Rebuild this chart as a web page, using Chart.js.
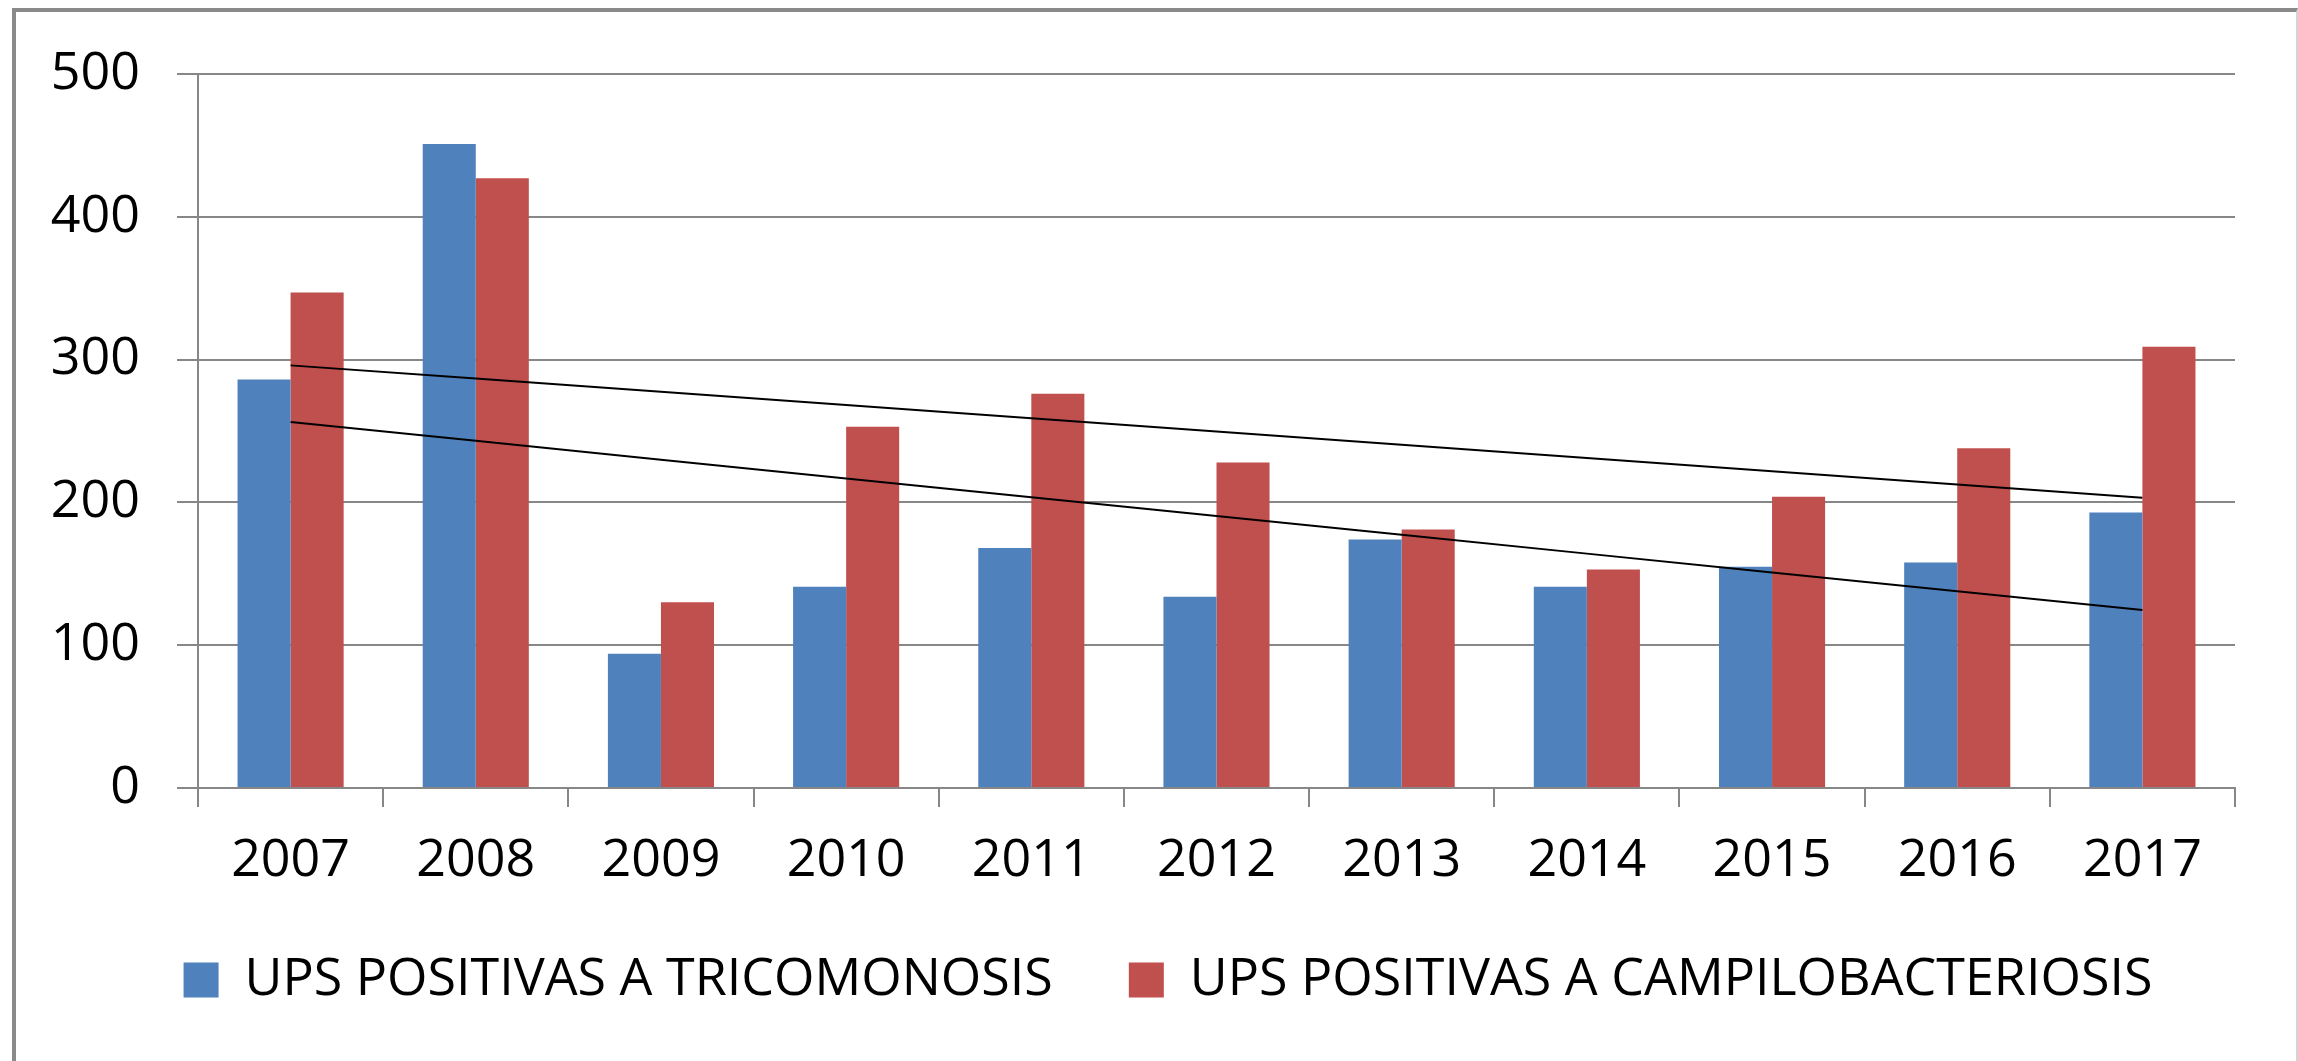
<!DOCTYPE html>
<html>
<head>
<meta charset="utf-8">
<script src="https://cdn.jsdelivr.net/npm/chart.js@4.4.1/dist/chart.umd.min.js"></script>
<style>
  html, body { margin: 0; padding: 0; background: #fff; }
  body { width: 2298px; height: 1061px; overflow: hidden; position: relative; }
  #frame {
    position: absolute; left: 12px; top: 8px; width: 2280px; height: 1100px;
    border-left: 4px solid #8a8a8a; border-top: 4px solid #8a8a8a; border-right: 2px solid #d4d4d4;
  }
  #wrap { position: absolute; left: 0; top: 0; width: 2298px; height: 1061px; }
</style>
</head>
<body>
<div id="frame"></div>
<div id="wrap"><canvas id="chart"></canvas></div>
<script>
const years = ['2007', '2008', '2009', '2010', '2011', '2012', '2013', '2014', '2015', '2016', '2017'];
const tricomonosis = [286, 451, 94, 141, 168, 134, 174, 141, 155, 158, 193];
const campilobacteriosis = [347, 427, 130, 253, 276, 228, 181, 153, 204, 238, 309];

// linear trend line, like the one Excel adds
function trend(values) {
  const n = values.length;
  const mx = (n - 1) / 2;
  const my = values.reduce((a, b) => a + b, 0) / n;
  let sxy = 0, sxx = 0;
  values.forEach((v, i) => { sxy += (i - mx) * (v - my); sxx += (i - mx) * (i - mx); });
  const slope = sxy / sxx;
  return values.map((v, i) => my + slope * (i - mx));
}

const font = { family: '"Open Sans", "Liberation Sans", sans-serif', size: 52 };
const gridColor = '#878787';

new Chart(document.getElementById('chart'), {
  type: 'bar',
  data: {
    labels: years,
    datasets: [
      {
        label: 'UPS POSITIVAS A TRICOMONOSIS',
        data: tricomonosis,
        backgroundColor: '#4F81BD',
        order: 1,
      },
      {
        label: 'UPS POSITIVAS A CAMPILOBACTERIOSIS',
        data: campilobacteriosis,
        backgroundColor: '#C0504D',
        order: 1,
      },
      {
        type: 'line',
        label: 'trend1',
        data: trend(tricomonosis),
        borderColor: '#000',
        borderWidth: 2,
        pointRadius: 0,
        order: 0,
      },
      {
        type: 'line',
        label: 'trend2',
        data: trend(campilobacteriosis),
        borderColor: '#000',
        borderWidth: 2,
        pointRadius: 0,
        order: 0,
      },
    ],
  },
  options: {
    responsive: true,
    maintainAspectRatio: false,
    animation: false,
    datasets: {
      bar: { barPercentage: 1, categoryPercentage: 0.573 },
    },
    layout: {
      padding: { left: 45, right: 7, top: 74, bottom: 45 },
    },
    scales: {
      x: {
        grid: { drawOnChartArea: false, drawTicks: true, tickLength: 19, color: gridColor, lineWidth: 2 },
        border: { color: gridColor, width: 2 },
        ticks: { color: '#000', font: font, padding: 23, maxRotation: 0 },
        afterFit: (scale) => { scale.height = 90; },
      },
      y: {
        min: 0,
        max: 500,
        ticks: { stepSize: 100, color: '#000', font: font, padding: 37 },
        grid: { color: gridColor, lineWidth: 2, tickLength: 21 },
        border: { color: gridColor, width: 2 },
        afterFit: (scale) => { scale.width = 153; },
      },
      // empty right margin so the legend centres like the original
      spacer: {
        type: 'linear',
        position: 'right',
        grid: { display: false },
        border: { display: false },
        ticks: { display: false },
        afterFit: (scale) => { scale.width = 56; },
      },
    },
    plugins: {
      legend: {
        position: 'bottom',
        labels: {
          color: '#000',
          font: font,
          boxWidth: 35,
          boxHeight: 35,
          padding: 76,
          filter: (item) => item.datasetIndex < 2,
        },
      },
      tooltip: { enabled: false },
    },
  },
});
</script>
</body>
</html>
